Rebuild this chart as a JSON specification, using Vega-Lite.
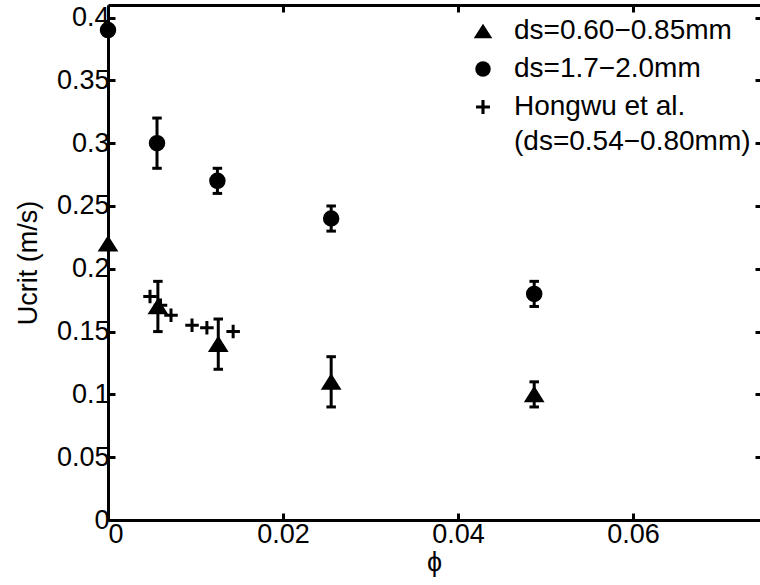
{
  "$schema": "https://vega.github.io/schema/vega-lite/v6.json",
  "width": 652,
  "height": 515,
  "autosize": {"type": "none"},
  "padding": {"left": 108, "top": 5, "right": 0, "bottom": 65},
  "background": "white",
  "config": {
    "view": {"stroke": null},
    "font": "Liberation Sans",
    "style": {"guide-label": {"lineHeight": 35}},
    "axis": {
      "grid": false,
      "domainColor": "black",
      "domainWidth": 3,
      "tickColor": "black",
      "tickWidth": 3,
      "tickSize": -7,
      "labelColor": "black",
      "labelFontSize": 27,
      "labelFont": "Liberation Sans",
      "titleFont": "Liberation Sans",
      "titleFontSize": 27,
      "titleFontWeight": "normal",
      "titleColor": "black"
    },
    "legend": {"padding": 0}
  },
  "data": {
    "values": [
      {"series": "ds=0.60−0.85mm", "phi": 0, "u": 0.22, "lo": null, "hi": null},
      {"series": "ds=0.60−0.85mm", "phi": 0.0057, "u": 0.17, "lo": 0.15, "hi": 0.19},
      {"series": "ds=0.60−0.85mm", "phi": 0.0126, "u": 0.14, "lo": 0.12, "hi": 0.16},
      {"series": "ds=0.60−0.85mm", "phi": 0.0255, "u": 0.11, "lo": 0.09, "hi": 0.13},
      {"series": "ds=0.60−0.85mm", "phi": 0.0487, "u": 0.10, "lo": 0.09, "hi": 0.11},
      {"series": "ds=1.7−2.0mm", "phi": 0, "u": 0.39, "lo": null, "hi": null},
      {"series": "ds=1.7−2.0mm", "phi": 0.0056, "u": 0.30, "lo": 0.28, "hi": 0.32},
      {"series": "ds=1.7−2.0mm", "phi": 0.0125, "u": 0.27, "lo": 0.26, "hi": 0.28},
      {"series": "ds=1.7−2.0mm", "phi": 0.0255, "u": 0.24, "lo": 0.23, "hi": 0.25},
      {"series": "ds=1.7−2.0mm", "phi": 0.0487, "u": 0.18, "lo": 0.17, "hi": 0.19},
      {"series": "Hongwu", "phi": 0.0048, "u": 0.178, "lo": null, "hi": null},
      {"series": "Hongwu", "phi": 0.0060, "u": 0.171, "lo": null, "hi": null},
      {"series": "Hongwu", "phi": 0.0072, "u": 0.163, "lo": null, "hi": null},
      {"series": "Hongwu", "phi": 0.0096, "u": 0.155, "lo": null, "hi": null},
      {"series": "Hongwu", "phi": 0.0113, "u": 0.153, "lo": null, "hi": null},
      {"series": "Hongwu", "phi": 0.0143, "u": 0.150, "lo": null, "hi": null}
    ]
  },
  "layer": [
    {
      "transform": [{"filter": "datum.lo != null"}],
      "mark": {"type": "rule", "color": "black", "strokeWidth": 3},
      "encoding": {
        "x": {"field": "phi", "type": "quantitative", "scale": {"domain": [0, 0.0745], "nice": false, "zero": false},
              "axis": {"orient": "top", "labels": false, "title": null, "values": [0, 0.02, 0.04, 0.06]}},
        "y": {"field": "lo", "type": "quantitative", "scale": {"domain": [0, 0.41], "nice": false},
              "axis": {"orient": "right", "labels": false, "title": null, "domain": false, "tickSize": -5, "values": [0, 0.05, 0.1, 0.15, 0.2, 0.25, 0.3, 0.35, 0.4]}},
        "y2": {"field": "hi"}
      }
    },
    {
      "transform": [{"filter": "datum.lo != null"}],
      "mark": {"type": "point", "shape": "stroke", "filled": false, "color": "black", "strokeWidth": 3, "size": 90, "opacity": 1},
      "encoding": {
        "x": {"field": "phi", "type": "quantitative", "axis": null},
        "y": {"field": "lo", "type": "quantitative", "axis": null}
      }
    },
    {
      "transform": [{"filter": "datum.hi != null"}],
      "mark": {"type": "point", "shape": "stroke", "filled": false, "color": "black", "strokeWidth": 3, "size": 90, "opacity": 1},
      "encoding": {
        "x": {"field": "phi", "type": "quantitative", "axis": null},
        "y": {"field": "hi", "type": "quantitative", "axis": null}
      }
    },
    {
      "transform": [{"filter": "datum.series != 'Hongwu'"}],
      "mark": {"type": "point", "filled": true, "fill": "black", "stroke": "black", "strokeWidth": 1.5, "size": 225, "opacity": 1},
      "encoding": {
        "x": {"field": "phi", "type": "quantitative",
              "axis": {"orient": "bottom", "title": "ϕ", "values": [0, 0.02, 0.04, 0.06], "labelPadding": 8, "titlePadding": 2,
                       "labelExpr": "datum.value == 0 ? '0' : format(datum.value, '.2f')"}},
        "y": {"field": "u", "type": "quantitative",
              "axis": {"orient": "left", "title": "Ucrit (m/s)", "values": [0, 0.05, 0.1, 0.15, 0.2, 0.25, 0.3, 0.35, 0.4], "labelPadding": 6, "titlePadding": 14,
                       "labelExpr": "datum.value == 0 ? '0' : format(datum.value, '.3~f')"}},
        "shape": {"field": "series", "type": "nominal",
                  "scale": {"domain": ["ds=0.60−0.85mm", "ds=1.7−2.0mm", "Hongwu"],
                            "range": ["M0,-0.95L1.2,0.95L-1.2,0.95Z", "circle", "M-0.9,-0.2L-0.2,-0.2L-0.2,-0.9L0.2,-0.9L0.2,-0.2L0.9,-0.2L0.9,0.2L0.2,0.2L0.2,0.9L-0.2,0.9L-0.2,0.2L-0.9,0.2Z"]},
                  "legend": {"orient": "none", "legendX": 361, "legendY": 12, "title": null,
                             "labelFontSize": 28, "labelColor": "black", "labelFont": "Liberation Sans", "labelLimit": 400,
                             "symbolFillColor": "black", "symbolStrokeColor": "black", "symbolStrokeWidth": 0, "symbolSize": 240,
                             "rowPadding": 10, "labelOffset": 17,
                             "labelExpr": "datum.label == 'Hongwu' ? ['Hongwu et al.', '(ds=0.54−0.80mm)'] : datum.label",
                             "encode": {"symbols": {"update": {"fill": {"value": "black"}, "opacity": {"value": 1},
                               "shape": {"signal": "datum.value == 'Hongwu' ? 'M-0.9,2.06L-0.2,2.06L-0.2,1.36L0.2,1.36L0.2,2.06L0.9,2.06L0.9,2.46L0.2,2.46L0.2,3.16L-0.2,3.16L-0.2,2.46L-0.9,2.46Z' : scale('shape', datum.value)"}}}}}}
      }
    },
    {
      "transform": [{"filter": "datum.series == 'Hongwu'"}],
      "mark": {"type": "point", "filled": true, "fill": "black", "strokeWidth": 0, "size": 225, "opacity": 1},
      "encoding": {
        "x": {"field": "phi", "type": "quantitative", "axis": null},
        "y": {"field": "u", "type": "quantitative", "axis": null},
        "shape": {"field": "series", "type": "nominal",
                  "legend": {"orient": "none", "legendX": 361, "legendY": 12, "title": null,
                             "labelFontSize": 28, "labelColor": "black", "labelFont": "Liberation Sans", "labelLimit": 400,
                             "symbolFillColor": "black", "symbolStrokeColor": "black", "symbolStrokeWidth": 0, "symbolSize": 240,
                             "rowPadding": 10, "labelOffset": 17,
                             "labelExpr": "datum.label == 'Hongwu' ? ['Hongwu et al.', '(ds=0.54−0.80mm)'] : datum.label",
                             "encode": {"symbols": {"update": {"fill": {"value": "black"}, "opacity": {"value": 1},
                               "shape": {"signal": "datum.value == 'Hongwu' ? 'M-0.9,2.06L-0.2,2.06L-0.2,1.36L0.2,1.36L0.2,2.06L0.9,2.06L0.9,2.46L0.2,2.46L0.2,3.16L-0.2,3.16L-0.2,2.46L-0.9,2.46Z' : scale('shape', datum.value)"}}}}}}
      }
    }
  ],
  "resolve": {"axis": {"x": "independent", "y": "independent"}}
}
